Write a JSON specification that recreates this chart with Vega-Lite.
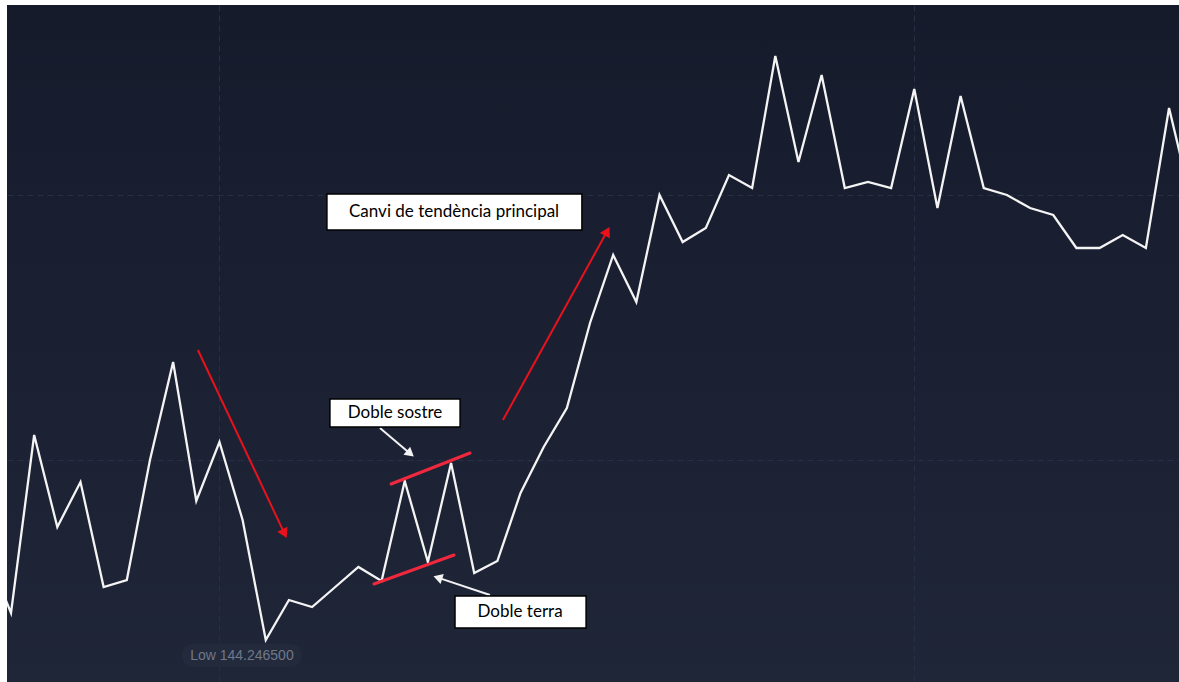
{
  "$schema": "https://vega.github.io/schema/vega-lite/v6.json",
  "width": 1172,
  "height": 677,
  "autosize": {"type": "none"},
  "padding": {"left": 7, "top": 5, "right": 0, "bottom": 0},
  "background": "#ffffff",
  "config": {
    "view": {
      "stroke": null,
      "fill": {
        "gradient": "linear",
        "x1": 0, "y1": 0, "x2": 0, "y2": 1,
        "stops": [
          {"offset": 0, "color": "#161b2c"},
          {"offset": 1, "color": "#1f2638"}
        ]
      }
    }
  },
  "datasets": {
    "price": [
      {"i": -1, "p": 145.0965}, {"i": 0, "p": 144.5165}, {"i": 1, "p": 146.2965},
      {"i": 2, "p": 145.3765}, {"i": 3, "p": 145.8265}, {"i": 4, "p": 144.7765},
      {"i": 5, "p": 144.8465}, {"i": 6, "p": 146.0465}, {"i": 7, "p": 147.0265},
      {"i": 8, "p": 145.6365}, {"i": 9, "p": 146.2265}, {"i": 10, "p": 145.4465},
      {"i": 11, "p": 144.2465}, {"i": 12, "p": 144.6465}, {"i": 13, "p": 144.5765},
      {"i": 14, "p": 144.7765}, {"i": 15, "p": 144.9765}, {"i": 16, "p": 144.8365},
      {"i": 17, "p": 145.8365}, {"i": 18, "p": 145.0265}, {"i": 19, "p": 146.0165},
      {"i": 20, "p": 144.9165}, {"i": 21, "p": 145.0365}, {"i": 22, "p": 145.7165},
      {"i": 23, "p": 146.1765}, {"i": 24, "p": 146.5665}, {"i": 25, "p": 147.4165},
      {"i": 26, "p": 148.0965}, {"i": 27, "p": 147.6265}, {"i": 28, "p": 148.6965},
      {"i": 29, "p": 148.2265}, {"i": 30, "p": 148.3665}, {"i": 31, "p": 148.8965},
      {"i": 32, "p": 148.7665}, {"i": 33, "p": 150.0865}, {"i": 34, "p": 149.0265},
      {"i": 35, "p": 149.8965}, {"i": 36, "p": 148.7665}, {"i": 37, "p": 148.8265},
      {"i": 38, "p": 148.7665}, {"i": 39, "p": 149.7565}, {"i": 40, "p": 148.5665},
      {"i": 41, "p": 149.6865}, {"i": 42, "p": 148.7665}, {"i": 43, "p": 148.6965},
      {"i": 44, "p": 148.5665}, {"i": 45, "p": 148.4965}, {"i": 46, "p": 148.1665},
      {"i": 47, "p": 148.1665}, {"i": 48, "p": 148.2965}, {"i": 49, "p": 148.1665},
      {"i": 50, "p": 149.5665}, {"i": 51, "p": 148.5965}
    ],
    "segments": [
      {"kind": "redarrow", "x1": 8.07, "y1": 147.1465, "x2": 11.81, "y2": 145.3105},
      {"kind": "redarrow", "x1": 21.24, "y1": 146.4465, "x2": 25.74, "y2": 148.3335},
      {"kind": "trend", "x1": 16.41, "y1": 145.8065, "x2": 19.82, "y2": 146.1165},
      {"kind": "trend", "x1": 15.67, "y1": 144.8065, "x2": 19.13, "y2": 145.0965},
      {"kind": "whitearrow", "x1": 15.93, "y1": 146.3665, "x2": 17.24, "y2": 146.1095},
      {"kind": "whitearrow", "x1": 20.68, "y1": 144.6965, "x2": 18.43, "y2": 144.8705}
    ],
    "heads": [
      {"id": "down", "x": 11.81, "y": 145.3105},
      {"id": "up", "x": 25.74, "y": 148.3335},
      {"id": "sostre", "x": 17.24, "y": 146.1095},
      {"id": "terra", "x": 18.43, "y": 144.8705}
    ],
    "boxes": [
      {"label": "Canvi de tendència principal", "x1": 13.64, "x2": 24.65, "y1": 148.7065, "y2": 148.3465, "tx": 19.13, "ty": 148.5265},
      {"label": "Doble sostre", "x1": 13.77, "x2": 19.39, "y1": 146.6565, "y2": 146.3765, "tx": 16.58, "ty": 146.5165},
      {"label": "Doble terra", "x1": 19.17, "x2": 24.83, "y1": 144.6865, "y2": 144.3665, "tx": 21.98, "ty": 144.5265}
    ],
    "low": [
      {"label": "Low 144.246500", "x1": 7.38, "x2": 12.56, "y1": 144.2065, "y2": 143.9765, "tx": 9.97, "ty": 144.0865}
    ]
  },
  "layer": [
    {
      "data": {"name": "price"},
      "mark": {"type": "line", "color": "#f4f4f4", "strokeWidth": 2.3, "clip": true, "strokeJoin": "miter"},
      "encoding": {
        "x": {
          "field": "i", "type": "quantitative",
          "scale": {"domain": [-0.1727, 50.43], "nice": false, "zero": false},
          "axis": {"values": [9, 39], "grid": true, "gridDash": [6, 4], "gridColor": "#263045", "gridWidth": 1, "labels": false, "ticks": false, "domain": false, "title": null}
        },
        "y": {
          "field": "p", "type": "quantitative",
          "scale": {"domain": [143.8265, 150.5965], "nice": false, "zero": false},
          "axis": {"values": [146.0465, 148.6965], "grid": true, "gridDash": [6, 4], "gridColor": "#263045", "gridWidth": 1, "labels": false, "ticks": false, "domain": false, "title": null}
        }
      }
    },
    {
      "data": {"name": "low"},
      "mark": {"type": "rect", "color": "#222a3c", "cornerRadius": 11},
      "encoding": {
        "x": {"field": "x1", "type": "quantitative"},
        "x2": {"field": "x2"},
        "y": {"field": "y1", "type": "quantitative"},
        "y2": {"field": "y2"}
      }
    },
    {
      "data": {"name": "low"},
      "mark": {"type": "text", "color": "#6f788b", "font": "Liberation Sans", "fontSize": 14, "align": "center", "baseline": "middle"},
      "encoding": {
        "x": {"field": "tx", "type": "quantitative"},
        "y": {"field": "ty", "type": "quantitative"},
        "text": {"field": "label"}
      }
    },
    {
      "data": {"name": "segments"},
      "transform": [{"filter": "datum.kind === 'redarrow'"}],
      "mark": {"type": "rule", "color": "#e8121c", "strokeWidth": 2},
      "encoding": {
        "x": {"field": "x1", "type": "quantitative"},
        "y": {"field": "y1", "type": "quantitative"},
        "x2": {"field": "x2"},
        "y2": {"field": "y2"}
      }
    },
    {
      "data": {"name": "segments"},
      "transform": [{"filter": "datum.kind === 'trend'"}],
      "mark": {"type": "rule", "color": "#f0283e", "strokeWidth": 3, "strokeCap": "round"},
      "encoding": {
        "x": {"field": "x1", "type": "quantitative"},
        "y": {"field": "y1", "type": "quantitative"},
        "x2": {"field": "x2"},
        "y2": {"field": "y2"}
      }
    },
    {
      "data": {"name": "segments"},
      "transform": [{"filter": "datum.kind === 'whitearrow'"}],
      "mark": {"type": "rule", "color": "#f2f2f2", "strokeWidth": 2},
      "encoding": {
        "x": {"field": "x1", "type": "quantitative"},
        "y": {"field": "y1", "type": "quantitative"},
        "x2": {"field": "x2"},
        "y2": {"field": "y2"}
      }
    },
    {
      "data": {"name": "heads"},
      "transform": [{"filter": "datum.id === 'down'"}],
      "mark": {"type": "point", "shape": "triangle-up", "filled": true, "color": "#e8121c", "opacity": 1, "size": 130, "angle": 154},
      "encoding": {
        "x": {"field": "x", "type": "quantitative"},
        "y": {"field": "y", "type": "quantitative"}
      }
    },
    {
      "data": {"name": "heads"},
      "transform": [{"filter": "datum.id === 'up'"}],
      "mark": {"type": "point", "shape": "triangle-up", "filled": true, "color": "#e8121c", "opacity": 1, "size": 130, "angle": 28},
      "encoding": {
        "x": {"field": "x", "type": "quantitative"},
        "y": {"field": "y", "type": "quantitative"}
      }
    },
    {
      "data": {"name": "heads"},
      "transform": [{"filter": "datum.id === 'sostre'"}],
      "mark": {"type": "point", "shape": "triangle-up", "filled": true, "color": "#f2f2f2", "opacity": 1, "size": 110, "angle": 130},
      "encoding": {
        "x": {"field": "x", "type": "quantitative"},
        "y": {"field": "y", "type": "quantitative"}
      }
    },
    {
      "data": {"name": "heads"},
      "transform": [{"filter": "datum.id === 'terra'"}],
      "mark": {"type": "point", "shape": "triangle-up", "filled": true, "color": "#f2f2f2", "opacity": 1, "size": 110, "angle": 288},
      "encoding": {
        "x": {"field": "x", "type": "quantitative"},
        "y": {"field": "y", "type": "quantitative"}
      }
    },
    {
      "data": {"name": "boxes"},
      "mark": {"type": "rect", "fill": "#ffffff", "stroke": "#000000", "strokeWidth": 1.5},
      "encoding": {
        "x": {"field": "x1", "type": "quantitative"},
        "x2": {"field": "x2"},
        "y": {"field": "y1", "type": "quantitative"},
        "y2": {"field": "y2"}
      }
    },
    {
      "data": {"name": "boxes"},
      "mark": {"type": "text", "color": "#000000", "font": "Lato", "fontSize": 17, "align": "center", "baseline": "middle"},
      "encoding": {
        "x": {"field": "tx", "type": "quantitative"},
        "y": {"field": "ty", "type": "quantitative"},
        "text": {"field": "label"}
      }
    }
  ]
}
